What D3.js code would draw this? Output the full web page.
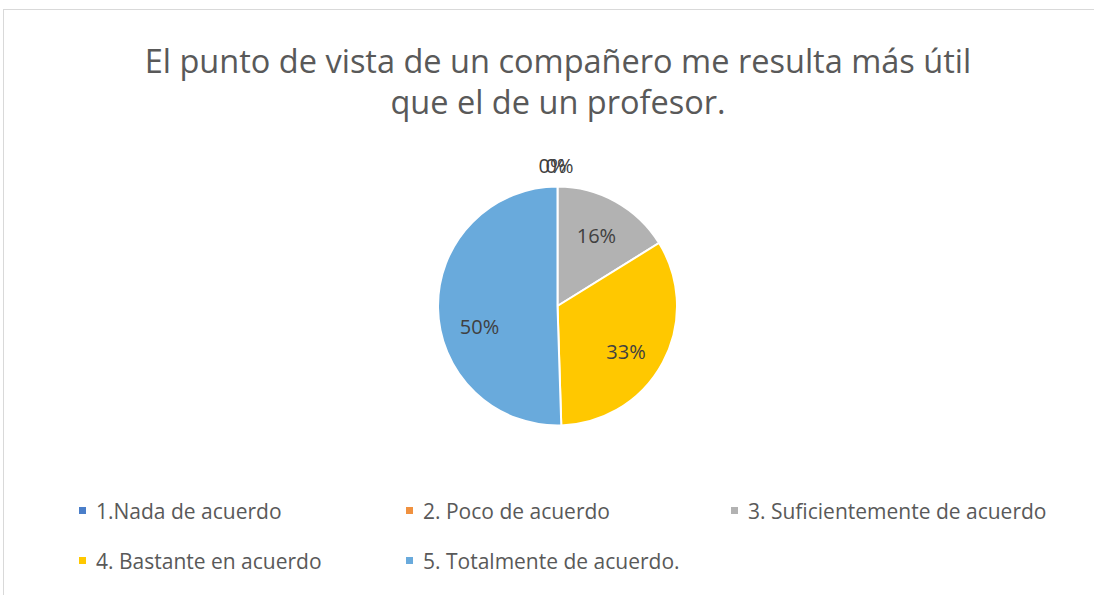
<!DOCTYPE html>
<html>
<head>
<meta charset="utf-8">
<script src="https://cdn.jsdelivr.net/npm/d3@7"></script>
<style>
  body { margin: 0; background: #fff; }
  text { font-family: "Open Sans", "Noto Sans", sans-serif; }
</style>
</head>
<body>
<script>
var w = 1094;
var h = 595;

var categories = ["1.Nada de acuerdo", "2. Poco de acuerdo", "3. Suficientemente de acuerdo",
                  "4. Bastante en acuerdo", "5. Totalmente de acuerdo."];
var values = [0, 0, 16, 33, 50];
var labels = ["0%", "0%", "16%", "33%", "50%"];
var colors = ["#4a7ec9", "#f0913f", "#b2b2b2", "#ffc800", "#69aadc"];
var titleLines = ["El punto de vista de un compañero me resulta más útil", "que el de un profesor."];

var svg = d3.select("body")
    .append("svg")
    .attr("width", w)
    .attr("height", h);

// chart frame
svg.append("rect")
    .attr("x", 3.5).attr("y", 9.5)
    .attr("width", w + 10).attr("height", h + 10)
    .attr("fill", "#fff")
    .attr("stroke", "#d9d9d9");

// title
var title = svg.append("g");
titleLines.forEach(function(t, i) {
  title.append("text")
    .attr("x", 558)
    .attr("y", 73 + i * 41)
    .attr("text-anchor", "middle")
    .attr("font-size", "30px")
    .attr("fill", "#595959")
    .text(t);
});
// fit first line to its width in the picture
var first = title.select("text").node();
var k = 827 / first.getComputedTextLength();
title.selectAll("text").attr("font-size", (30 * k) + "px");

// pie
var cx = 557.5, cy = 306, r = 119.5;
var pie = d3.pie().sort(null).value(function(d) { return d; });
var arcs = pie(values);
var arc = d3.arc().innerRadius(0).outerRadius(r);
var labelArc = d3.arc().innerRadius(80).outerRadius(80);
// small nudges so labels sit where the original tool put them
var labelNudge = [[-5, 0], [2, 0], [0, 0], [-2, 8], [2, 20]];

var g = svg.append("g").attr("transform", "translate(" + cx + "," + cy + ")");

g.selectAll("path")
  .data(arcs)
  .enter()
  .append("path")
  .attr("d", arc)
  .attr("fill", function(d, i) { return colors[i]; })
  .attr("stroke", "#fff")
  .attr("stroke-width", 2);

g.selectAll("text.lbl")
  .data(arcs)
  .enter()
  .append("text")
  .attr("class", "lbl")
  .attr("transform", function(d, i) {
    var p = d.value === 0 ? [0, -(r + 21)] : labelArc.centroid(d);  // zero slices sit outside, on top
    return "translate(" + (p[0] + labelNudge[i][0]) + "," + (p[1] + labelNudge[i][1]) + ")";
  })
  .attr("text-anchor", "middle")
  .attr("dy", "0.35em")
  .attr("font-size", "20px")
  .attr("fill", "#404040")
  .text(function(d, i) { return labels[i]; });

// legend
var legendX = [79, 406, 731];
var legend = svg.selectAll("g.leg")
  .data(categories)
  .enter()
  .append("g")
  .attr("class", "leg")
  .attr("transform", function(d, i) {
    return "translate(" + legendX[i % 3] + "," + (512 + Math.floor(i / 3) * 50) + ")";
  });

legend.append("rect")
  .attr("x", 0).attr("y", -5)
  .attr("width", 7).attr("height", 7)
  .attr("fill", function(d, i) { return colors[i]; });

legend.append("text")
  .attr("x", 17)
  .attr("dy", "0.35em")
  .attr("font-size", "21px")
  .attr("fill", "#595959")
  .text(function(d) { return d; });
</script>
</body>
</html>
